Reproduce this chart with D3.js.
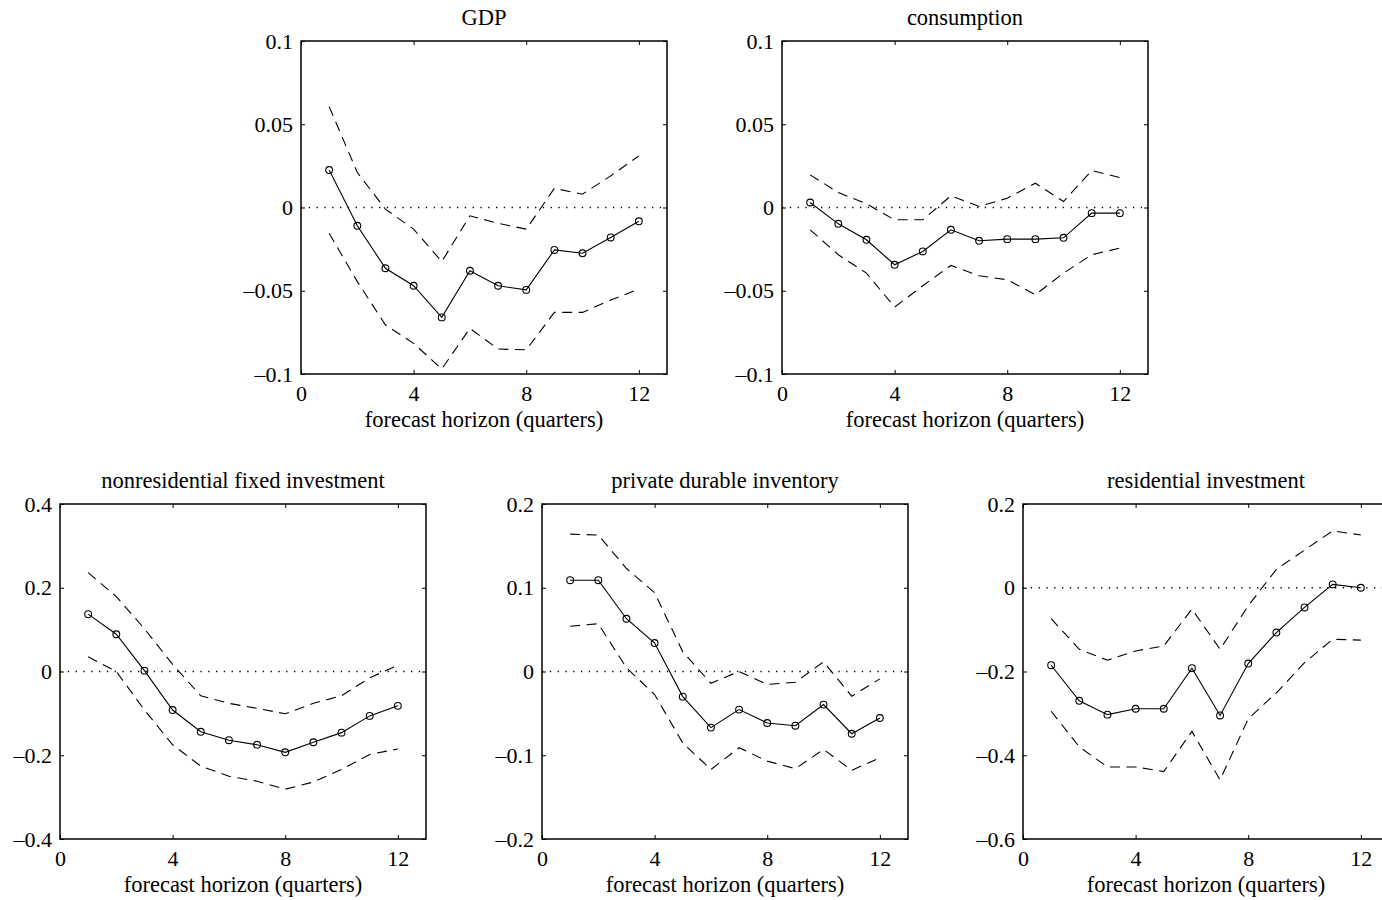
<!DOCTYPE html>
<html>
<head>
<meta charset="utf-8">
<script src="https://cdn.jsdelivr.net/npm/d3@7"></script>
<style>
    body { margin: 0; background: #fff; }
    svg text { font-family: "Liberation Serif", "Times New Roman", serif; fill: #000; }
</style>
</head>
<body>
<svg id="drawing_region"></svg>
<script>
// forecast horizon (quarters)
const horizon = [1, 2, 3, 4, 5, 6, 7, 8, 9, 10, 11, 12];
const xTicks = [0, 4, 8, 12];

// GDP
const gdpTicks = [-0.1, -0.05, 0, 0.05, 0.1];
const gdpMean  = [0.0225, -0.011, -0.0365, -0.047, -0.066, -0.038, -0.047, -0.0495, -0.0255, -0.0275, -0.018, -0.0083];
const gdpUpper = [0.0606, 0.021, -0.001, -0.013, -0.0325, -0.005, -0.0095, -0.013, 0.0115, 0.008, 0.019, 0.031];
const gdpLower = [-0.0155, -0.0445, -0.0706, -0.0816, -0.097, -0.0726, -0.085, -0.0855, -0.063, -0.063, -0.0556, -0.049];

// consumption
const consTicks = [-0.1, -0.05, 0, 0.05, 0.1];
const consMean  = [0.003, -0.0098, -0.0194, -0.0344, -0.0264, -0.0134, -0.020, -0.019, -0.019, -0.0182, -0.0034, -0.0034];
const consUpper = [0.0196, 0.009, 0.0022, -0.0074, -0.0074, 0.007, 0.0006, 0.0056, 0.0146, 0.0036, 0.0222, 0.018];
const consLower = [-0.0134, -0.0284, -0.0394, -0.0598, -0.047, -0.0348, -0.041, -0.0434, -0.0524, -0.0394, -0.0284, -0.0244];

// nonresidential fixed investment
const nonresTicks = [-0.4, -0.2, 0, 0.2, 0.4];
const nonresMean  = [0.137, 0.089, 0.002, -0.092, -0.144, -0.164, -0.175, -0.193, -0.169, -0.146, -0.106, -0.082];
const nonresUpper = [0.236, 0.179, 0.102, 0.017, -0.058, -0.076, -0.088, -0.101, -0.076, -0.058, -0.015, 0.015];
const nonresLower = [0.035, 0.0, -0.092, -0.175, -0.226, -0.25, -0.262, -0.281, -0.264, -0.234, -0.198, -0.185];

// private durable inventory
const invTicks = [-0.2, -0.1, 0, 0.1, 0.2];
const invMean  = [0.109, 0.109, 0.063, 0.034, -0.030, -0.067, -0.0455, -0.0615, -0.0647, -0.0395, -0.0743, -0.0555];
const invUpper = [0.164, 0.163, 0.123, 0.094, 0.0235, -0.014, 0.0, -0.0155, -0.0128, 0.0116, -0.0295, -0.0088];
const invLower = [0.054, 0.057, 0.0044, -0.0275, -0.0854, -0.117, -0.091, -0.107, -0.116, -0.093, -0.118, -0.103];

// residential investment
const resTicks = [-0.6, -0.4, -0.2, 0, 0.2];
const resMean  = [-0.185, -0.270, -0.303, -0.289, -0.289, -0.192, -0.305, -0.181, -0.107, -0.047, 0.008, 0.0];
const resUpper = [-0.074, -0.147, -0.173, -0.151, -0.139, -0.051, -0.147, -0.043, 0.044, 0.09, 0.136, 0.126];
const resLower = [-0.295, -0.380, -0.428, -0.428, -0.439, -0.343, -0.459, -0.313, -0.251, -0.179, -0.123, -0.125];

const xLabel = "forecast horizon (quarters)";

const svg = d3.select('#drawing_region')
    .attr('width', 1382)
    .attr('height', 900);

const panels = [
    { title: "GDP", ticks: gdpTicks, mean: gdpMean, upper: gdpUpper, lower: gdpLower, left: 301, top: 41, bottom: 374 },
    { title: "consumption", ticks: consTicks, mean: consMean, upper: consUpper, lower: consLower, left: 782, top: 41, bottom: 374 },
    { title: "nonresidential fixed investment", ticks: nonresTicks, mean: nonresMean, upper: nonresUpper, lower: nonresLower, left: 60, top: 504, bottom: 839 },
    { title: "private durable inventory", ticks: invTicks, mean: invMean, upper: invUpper, lower: invLower, left: 542, top: 504, bottom: 839 },
    { title: "residential investment", ticks: resTicks, mean: resMean, upper: resUpper, lower: resLower, left: 1023, top: 504, bottom: 839 }
];

class IrfPanel {

    constructor( config, data ) {
        this.config = {
            svg: config.svg,
            left: config.left,
            top: config.top,
            width: config.width || 366,
            height: config.height || 333,
            title: config.title,
            ticks: config.ticks
        }
        this.data = data;
        this.init();
    }

    init() {
        let self = this;

        self.chart = self.config.svg.append('g')
            .attr('transform', `translate(${self.config.left}, ${self.config.top})`);

        self.xscale = d3.scaleLinear()
            .domain( [0, 13] )
            .range( [0, self.config.width] );

        self.yscale = d3.scaleLinear()
            .domain( d3.extent(self.config.ticks) )
            .range( [self.config.height, 0] );

        const fmt = d => d < 0 ? "\u2013" + d3.format("")(-d) : d3.format("")(d);

        self.xaxis = d3.axisBottom( self.xscale )
            .tickValues( xTicks )
            .tickSizeInner( -4 ).tickSizeOuter( 0 ).tickPadding( 11 );
        self.xaxis_top = d3.axisTop( self.xscale )
            .tickValues( xTicks )
            .tickSizeInner( -4 ).tickSizeOuter( 0 ).tickFormat( "" );
        self.yaxis = d3.axisLeft( self.yscale )
            .tickValues( self.config.ticks )
            .tickSizeInner( -4 ).tickSizeOuter( 0 ).tickPadding( 8 )
            .tickFormat( fmt );
        self.yaxis_right = d3.axisRight( self.yscale )
            .tickValues( self.config.ticks )
            .tickSizeInner( -4 ).tickSizeOuter( 0 ).tickFormat( "" );
    }

    update() {
        let self = this;
        self.render();
    }

    render() {
        let self = this;
        const w = self.config.width, h = self.config.height;

        // zero line
        self.chart.append('line')
            .attr('x1', self.xscale(0)).attr('x2', self.xscale(13))
            .attr('y1', self.yscale(0)).attr('y2', self.yscale(0))
            .attr('stroke', '#000')
            .attr('stroke-width', 1.3)
            .attr('stroke-dasharray', '1.3,6.5');

        const line = d3.line()
            .x( d => self.xscale( d.h ) )
            .y( d => self.yscale( d.v ) );

        ['upper', 'lower'].forEach( key => {
            self.chart.append('path')
                .datum( horizon.map( (h, i) => ({ h: h, v: self.data[key][i] }) ) )
                .attr('d', line)
                .attr('fill', 'none')
                .attr('stroke', '#000')
                .attr('stroke-width', 1.1)
                .attr('stroke-dasharray', '10,6.5');
        });

        const mean = horizon.map( (h, i) => ({ h: h, v: self.data.mean[i] }) );

        self.chart.append('path')
            .datum( mean )
            .attr('d', line)
            .attr('fill', 'none')
            .attr('stroke', '#000')
            .attr('stroke-width', 1.1);

        self.chart.selectAll('circle')
            .data( mean )
            .enter()
            .append('circle')
            .attr('cx', d => self.xscale( d.h ))
            .attr('cy', d => self.yscale( d.v ))
            .attr('r', 3.4)
            .attr('fill', 'none')
            .attr('stroke', '#000')
            .attr('stroke-width', 1.1);

        // axes
        const styleAxis = g => {
            g.select('.domain').remove();
            g.selectAll('.tick line').attr('stroke', '#000').attr('stroke-width', 1);
            g.attr('font-family', null).attr('font-size', null);
            g.selectAll('text').style('font-size', '22px');
        };

        self.chart.append('g')
            .attr('transform', `translate(0, ${h})`)
            .call( self.xaxis ).call( styleAxis )
            .selectAll('text').attr('dy', '0.71em');
        self.chart.append('g')
            .call( self.xaxis_top ).call( styleAxis );
        self.chart.append('g')
            .call( self.yaxis ).call( styleAxis );
        self.chart.append('g')
            .attr('transform', `translate(${w}, 0)`)
            .call( self.yaxis_right ).call( styleAxis );

        self.chart.append('rect')
            .attr('x', 0).attr('y', 0)
            .attr('width', w).attr('height', h)
            .attr('fill', 'none')
            .attr('stroke', '#000')
            .attr('stroke-width', 1.5);

        self.chart.append('text')
            .attr('x', w / 2)
            .attr('y', -16)
            .attr('text-anchor', 'middle')
            .style('font-size', '22.5px')
            .text( self.config.title );

        self.chart.append('text')
            .attr('x', w / 2)
            .attr('y', h + 53)
            .attr('text-anchor', 'middle')
            .style('font-size', '22.5px')
            .text( xLabel );
    }
}

panels.forEach( p => {
    const panel = new IrfPanel(
        { svg: svg, left: p.left, top: p.top, height: p.bottom - p.top, title: p.title, ticks: p.ticks },
        { mean: p.mean, upper: p.upper, lower: p.lower }
    );
    panel.update();
});
</script>
</body>
</html>
